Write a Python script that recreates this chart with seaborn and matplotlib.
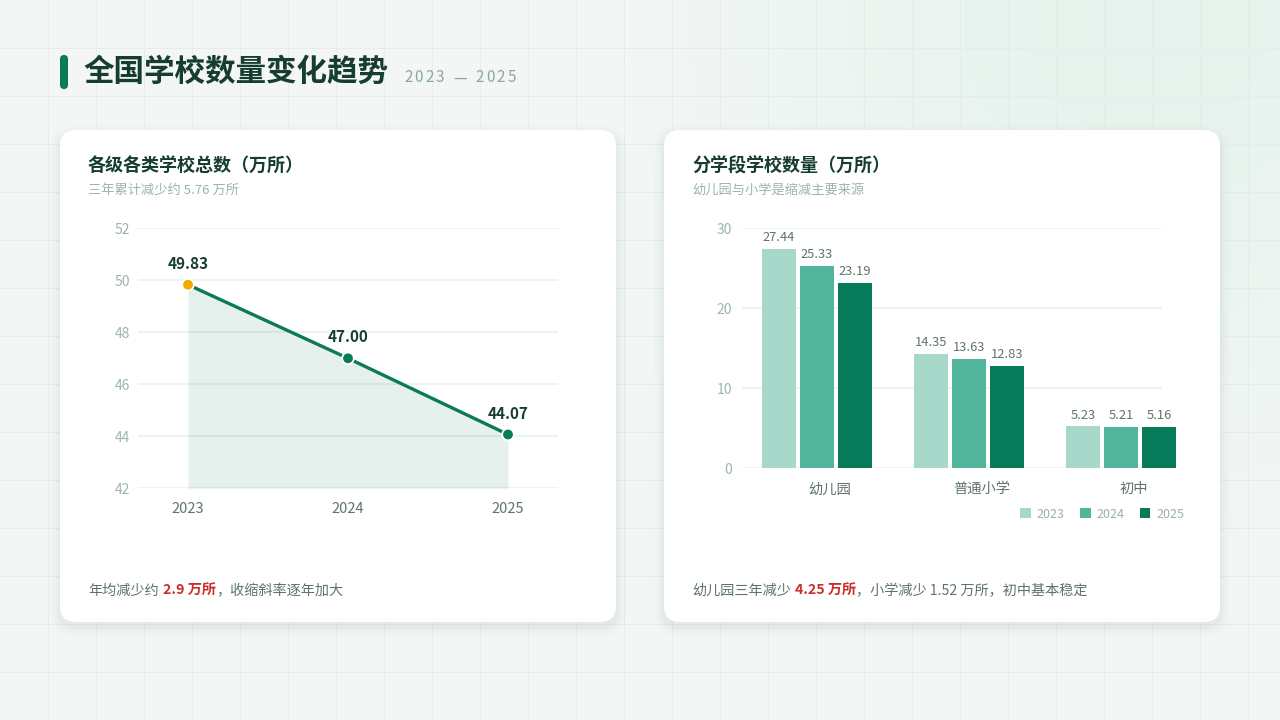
import numpy as np
import pandas as pd
import matplotlib
matplotlib.use("Agg")
import matplotlib.pyplot as plt
import seaborn as sns
from matplotlib.patches import FancyBboxPatch

# ---------------- data ----------------
years = ["2023", "2024", "2025"]
total_schools = [49.83, 47.00, 44.07]
stages = ["幼儿园", "普通小学", "初中"]
stage_2023 = [27.44, 14.35, 5.23]
stage_2024 = [25.33, 13.63, 5.21]
stage_2025 = [23.19, 12.83, 5.16]
line_yticks = [42, 44, 46, 48, 50, 52]
bar_yticks = [0, 10, 20, 30]

title_main = "全国学校数量变化趋势"
title_years = "2023 — 2025"
left_title = "各级各类学校总数（万所）"
left_sub = "三年累计减少约 5.76 万所"
right_title = "分学段学校数量（万所）"
right_sub = "幼儿园与小学是缩减主要来源"

# ---------------- style ----------------
sns.set_theme(style="white")
plt.rcParams['font.family'] = ['Noto Sans CJK SC', 'DejaVu Sans']
plt.rcParams['axes.unicode_minus'] = False

DARK = "#163d30"
GREEN = "#0b7a58"
ORANGE = "#f6a800"
RED = "#c9302a"
GREY = "#5d736b"
LIGHT = "#9bb5ac"
GRID = "#ecf2ef"
bar_colors = ["#a8d8c9", "#52b49a", "#077a5a"]

W, H = 1280, 720
fig = plt.figure(figsize=(12.8, 7.2), dpi=100)
bg = fig.add_axes([0, 0, 1, 1])
bg.set_xlim(0, W)
bg.set_ylim(H, 0)
bg.axis('off')

# background gradient with glow at top right
gy, gx = np.mgrid[0:H:180j, 0:W:320j]
d = np.sqrt((gx - 1150) ** 2 + (gy - 20) ** 2)
w = np.exp(-(d / 380.0) ** 2)[..., None]
base = np.array([0.957, 0.968, 0.964])
glow = np.array([0.905, 0.950, 0.930])
img = base * (1 - w) + glow * w
bg.imshow(img, extent=(0, W, H, 0), aspect='auto', zorder=0, interpolation='bilinear')
for gxl in range(48, W, 48):
    bg.plot([gxl, gxl], [0, H], color="#e3eeea", lw=0.7, zorder=1)
for gyl in range(48, H, 48):
    bg.plot([0, W], [gyl, gyl], color="#e3eeea", lw=0.7, zorder=1)


def card(x, y, wd, ht):
    for pad, a in [(10, 0.010), (7, 0.014), (4, 0.02), (2, 0.026)]:
        bg.add_patch(FancyBboxPatch((x - pad, y - pad + 5), wd + 2 * pad, ht + 2 * pad,
                                    boxstyle=f"round,pad=0,rounding_size={16 + pad}",
                                    fc="#3f6b5c", ec='none', alpha=a, zorder=2))
    bg.add_patch(FancyBboxPatch((x, y), wd, ht, boxstyle="round,pad=0,rounding_size=16",
                                fc='white', ec='none', zorder=3))


card(60, 130, 556, 492)
card(664, 130, 556, 492)

# title accent
bg.add_patch(FancyBboxPatch((60, 55), 8, 34, boxstyle="round,pad=0,rounding_size=4",
                            fc=GREEN, ec='none', zorder=4))
bg.text(83, 72, title_main, fontsize=22, fontweight='bold', color=DARK,
        va='center', ha='left', zorder=5)

renderer = fig.canvas.get_renderer()


def seq_text(x, y, parts, zorder=5):
    for s, gap, props in parts:
        tt = bg.text(x, y, s, va='center', ha='left', zorder=zorder, **props)
        bb = tt.get_window_extent(renderer=renderer)
        x += bb.width + gap
    return x


yr_style = dict(fontsize=11, color="#8aa99e")
seq_text(404, 78, [(ch, 2.2, yr_style) if ch != ' ' else (' ', 3, yr_style) for ch in title_years])

# card titles
bg.text(88, 166, left_title, fontsize=13, fontweight='bold', color=DARK, va='center', ha='left', zorder=5)
bg.text(88, 190, left_sub, fontsize=9.5, color=LIGHT, va='center', ha='left', zorder=5)
bg.text(692, 166, right_title, fontsize=13, fontweight='bold', color=DARK, va='center', ha='left', zorder=5)
bg.text(692, 190, right_sub, fontsize=9.5, color=LIGHT, va='center', ha='left', zorder=5)

# footers
norm = dict(fontsize=10.2, color=GREY)
hi = dict(fontsize=10.2, color=RED, fontweight='bold')
seq_text(88, 591, [("年均减少约", 4, norm), ("2.9 万所", 0, hi), ("，收缩斜率逐年加大", 0, norm)])
seq_text(692, 591, [("幼儿园三年减少", 4, norm), ("4.25 万所", 0, hi),
                    ("，小学减少 1.52 万所，初中基本稳定", 0, norm)])

# ---------------- left: line chart ----------------
df_total = pd.DataFrame({"year": years, "total": total_schools})
ax1 = fig.add_axes([138 / W, 1 - 488.3 / H, 420 / W, 260 / H])
ax1.set_facecolor('none')
ax1.set_zorder(6)
ax1.set_ylim(line_yticks[0], line_yticks[-1])
ax1.set_yticks(line_yticks)
ax1.yaxis.grid(True, color=GRID, lw=1.3)
ax1.set_axisbelow(True)
xs = np.arange(len(years))
ax1.fill_between(xs, total_schools, line_yticks[0], color=GREEN, alpha=0.1, lw=0, zorder=1)
sns.lineplot(data=df_total, x="year", y="total", ax=ax1, color=GREEN, lw=2.4, sort=False, zorder=2)
marker_pal = {years[0]: ORANGE, years[1]: GREEN, years[2]: GREEN}
sns.scatterplot(data=df_total, x="year", y="total", hue="year", palette=marker_pal, ax=ax1,
                s=70, edgecolor='white', linewidth=1.3, legend=False, zorder=3)
for i, v in enumerate(total_schools):
    ax1.annotate(f"{v:.2f}", (i, v), xytext=(0, 15), textcoords='offset points',
                 ha='center', va='center', fontsize=11, fontweight='bold', color=DARK)
ax1.set_xlim(-0.3125, 2.3125)
ax1.set_xlabel("")
ax1.set_ylabel("")
for s in ax1.spines.values():
    s.set_visible(False)
ax1.tick_params(axis='y', length=0, pad=6, labelsize=10, labelcolor=LIGHT)
ax1.tick_params(axis='x', length=0, pad=10, labelsize=10.5, labelcolor=GREY)

# ---------------- right: grouped bars ----------------
df_bar = pd.DataFrame({
    "stage": stages * 3,
    "year": [years[0]] * 3 + [years[1]] * 3 + [years[2]] * 3,
    "value": stage_2023 + stage_2024 + stage_2025,
})
ax2 = fig.add_axes([742 / W, 1 - 468.3 / H, 420 / W, 240 / H])
ax2.set_facecolor('none')
ax2.set_zorder(6)
sns.barplot(data=df_bar, x="stage", y="value", hue="year", palette=bar_colors, width=0.75,
            gap=0.105, saturation=1, errorbar=None, legend=False, ax=ax2, zorder=2)
ax2.set_ylim(bar_yticks[0], bar_yticks[-1])
ax2.set_yticks(bar_yticks)
ax2.yaxis.grid(True, color=GRID, lw=1.3)
ax2.set_axisbelow(True)
ax2.set_xlim(-0.493, 2.27)
for c in ax2.containers:
    for p in c.patches:
        p.set_clip_on(False)
        p.set_edgecolor('none')
    ax2.bar_label(c, fmt='%.2f', padding=3.5, fontsize=9.3, color=GREY, clip_on=False)
ax2.set_xticks([i + 0.085 for i in range(len(stages))], stages)
ax2.set_xlabel("")
ax2.set_ylabel("")
for s in ax2.spines.values():
    s.set_visible(False)
ax2.tick_params(axis='y', length=0, pad=7, labelsize=10, labelcolor=LIGHT)
ax2.tick_params(axis='x', length=0, pad=10, labelsize=10.3, labelcolor=GREY)
handles = [c.patches[0] for c in ax2.containers]
ax2.legend(handles, years, loc='center right', bbox_to_anchor=(1184 / W, 1 - 514 / H),
           bbox_transform=fig.transFigure, ncol=3, frameon=False, fontsize=9,
           handlelength=0.85, handleheight=0.85, handletextpad=0.45, columnspacing=1.25,
           borderaxespad=0, borderpad=0, labelcolor="#9bb0a8")

fig.savefig("out.png", dpi=100)
